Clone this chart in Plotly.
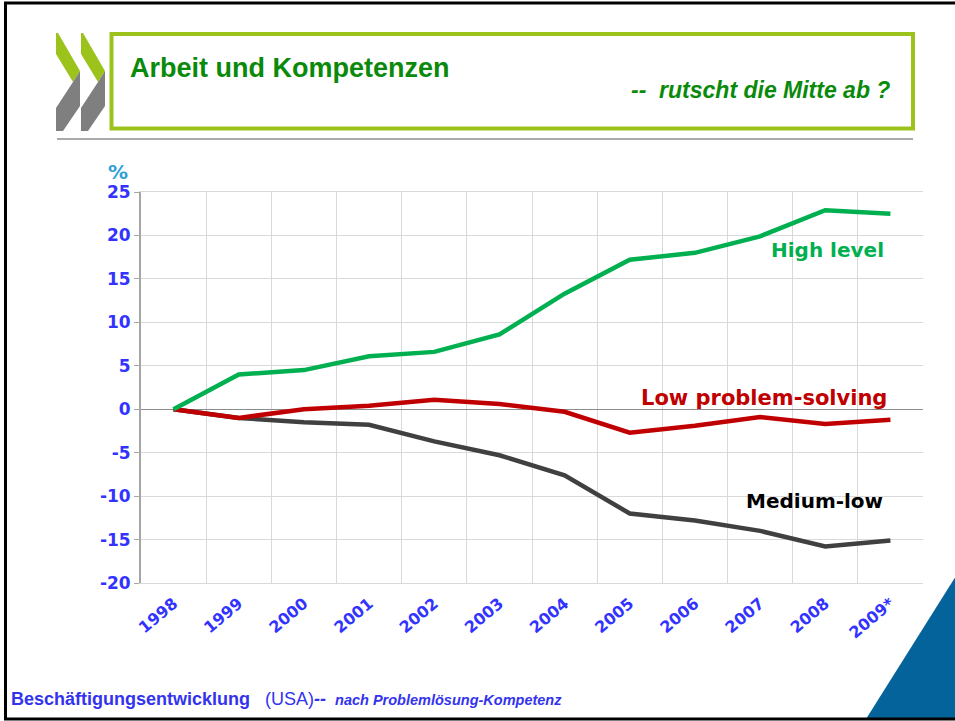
import plotly.graph_objects as go

years = ["1998", "1999", "2000", "2001", "2002", "2003", "2004", "2005", "2006", "2007", "2008", "2009*"]
high_level = [0, 4.0, 4.5, 6.1, 6.6, 8.6, 13.3, 17.2, 18.0, 19.9, 22.9, 22.5]
low_problem = [0, -1.0, 0.0, 0.4, 1.1, 0.6, -0.3, -2.7, -1.9, -0.9, -1.7, -1.2]
medium_low = [0, -1.0, -1.5, -1.8, -3.7, -5.3, -7.6, -12.0, -12.8, -14.0, -15.8, -15.1]
y_ticks = [25, 20, 15, 10, 5, 0, -5, -10, -15, -20]
y_ticktext = ["25", "20", "15", "10", "5", "0", "-5", "-10", "-15", "-20"]

W, H = 955, 721
L, R, T, B = 141, 32, 192, 138

# pixel -> paper helpers for the slide decorations
def px(x):
    return (x - L) / (W - L - R)

def py(y):
    return (H - B - y) / (H - T - B)

xs = list(range(len(years)))
fig = go.Figure()
fig.add_trace(go.Scatter(x=xs, y=medium_low, mode="lines", line=dict(color="#404040", width=4.5), name="Medium-low"))
fig.add_trace(go.Scatter(x=xs, y=low_problem, mode="lines", line=dict(color="#C00000", width=4.5), name="Low problem-solving"))
fig.add_trace(go.Scatter(x=xs, y=high_level, mode="lines", line=dict(color="#00B050", width=4.5), name="High level"))

tick_blue = "#3333FF"
fig.update_layout(
    width=W, height=H,
    margin=dict(l=L, r=R, t=T, b=B),
    paper_bgcolor="white", plot_bgcolor="white",
    showlegend=False,
    font=dict(family="DejaVu Sans", color=tick_blue),
)
fig.update_xaxes(
    range=[-0.5, len(years) - 0.5],
    tickmode="array", tickvals=xs, ticktext=years,
    tickangle=-40, showgrid=False, ticks="", ticklabelstandoff=4,
    tickfont=dict(family="DejaVu Sans", size=16, color=tick_blue, weight="bold"),
    showline=True, linecolor="#D9D9D9", linewidth=1,
    zeroline=False,
    minor=dict(tickvals=[i - 0.5 for i in range(len(years) + 1)], showgrid=True,
               gridcolor="#D9D9D9", gridwidth=1, ticks=""),
    mirror=True,
)
fig.update_yaxes(
    range=[-20, 25], tickmode="array", tickvals=y_ticks, ticktext=y_ticktext,
    tickfont=dict(family="DejaVu Sans", size=17, color=tick_blue, weight="bold"),
    showgrid=True, gridcolor="#D9D9D9", gridwidth=1,
    showline=True, linecolor="#A6A6A6", linewidth=2,
    ticks="outside", ticklen=5, tickcolor="#A6A6A6", tickwidth=1,
    zeroline=True, zerolinecolor="#8C8C8C", zerolinewidth=1,
)

# series labels
label_font = dict(family="DejaVu Sans", size=20, weight="bold")
fig.add_annotation(x=10.04, y=18.3, text="High level", showarrow=False,
                   font=dict(label_font, color="#00B050"))
fig.add_annotation(x=9.06, y=1.3, text="Low problem-solving", showarrow=False,
                   font=dict(family="DejaVu Sans", size=21, weight="bold", color="#C00000"))
fig.add_annotation(x=9.84, y=-10.6, text="Medium-low", showarrow=False,
                   font=dict(label_font, color="#000000"))

# percent sign
fig.add_annotation(x=px(118), y=py(172), xref="paper", yref="paper", text="%", showarrow=False,
                   xanchor="center", yanchor="middle",
                   font=dict(family="DejaVu Sans", size=20, color="#2E9FD6", weight="bold"))

# title box
fig.add_shape(type="rect", xref="paper", yref="paper",
              x0=px(111.5), x1=px(913), y0=py(34), y1=py(128.5),
              line=dict(color="#9BC31C", width=4))
fig.add_shape(type="line", xref="paper", yref="paper",
              x0=px(57), x1=px(913), y0=py(139), y1=py(139),
              line=dict(color="#8C8C8C", width=1.5))
fig.add_annotation(x=px(128), y=py(68), xref="paper", yref="paper", xanchor="left", yanchor="middle",
                   text="<b>Arbeit und Kompetenzen</b>", showarrow=False,
                   font=dict(family="Liberation Sans", size=27, color="#0A8A0A"))
fig.add_annotation(x=px(892), y=py(90), xref="paper", yref="paper", xanchor="right", yanchor="middle",
                   text="<b><i>--  rutscht die Mitte ab ?</i></b>", showarrow=False,
                   font=dict(family="Liberation Sans", size=23, color="#0A8A0A"))

# OECD chevrons
green_pts = [(0, 33), (2, 33), (24, 71), (17, 82), (0, 54)]
gray_pts = [(24, 71), (24, 106), (7, 131), (0, 131), (0, 108), (17, 82)]

def poly(pts, dx):
    return "M " + " L ".join(f"{px(x + dx)},{py(y)}" for x, y in pts) + " Z"

for dx in (56, 81):
    fig.add_shape(type="path", xref="paper", yref="paper", path=poly(green_pts, dx),
                  fillcolor="#9BC31C", line=dict(width=0))
    fig.add_shape(type="path", xref="paper", yref="paper", path=poly(gray_pts, dx),
                  fillcolor="#7F7F7F", line=dict(width=0))

# footer
fig.add_annotation(x=px(9), y=py(699), xref="paper", yref="paper", xanchor="left", yanchor="middle",
                   text="<b>Beschäftigungsentwicklung</b>   (USA)<b><i>-- "
                        "<span style='font-size:14.5px'> nach Problemlösung-Kompetenz</span></i></b>",
                   showarrow=False,
                   font=dict(family="Liberation Sans", size=18, color="#3333EE"))

# blue corner triangle
fig.add_shape(type="path", xref="paper", yref="paper",
              path=f"M {px(956)},{py(576)} L {px(866)},{py(719)} L {px(960)},{py(719)} Z",
              fillcolor="#04639B", line=dict(width=0))

# slide border: left, top, bottom only
border = f"M {px(960)},{py(3)} L {px(5.5)},{py(3)} L {px(5.5)},{py(719)} L {px(960)},{py(719)}"
fig.add_shape(type="path", xref="paper", yref="paper", path=border,
              line=dict(color="black", width=3))

fig.write_html("out.html", config={"displayModeBar": False},
               post_script="document.body.style.margin='0';")
